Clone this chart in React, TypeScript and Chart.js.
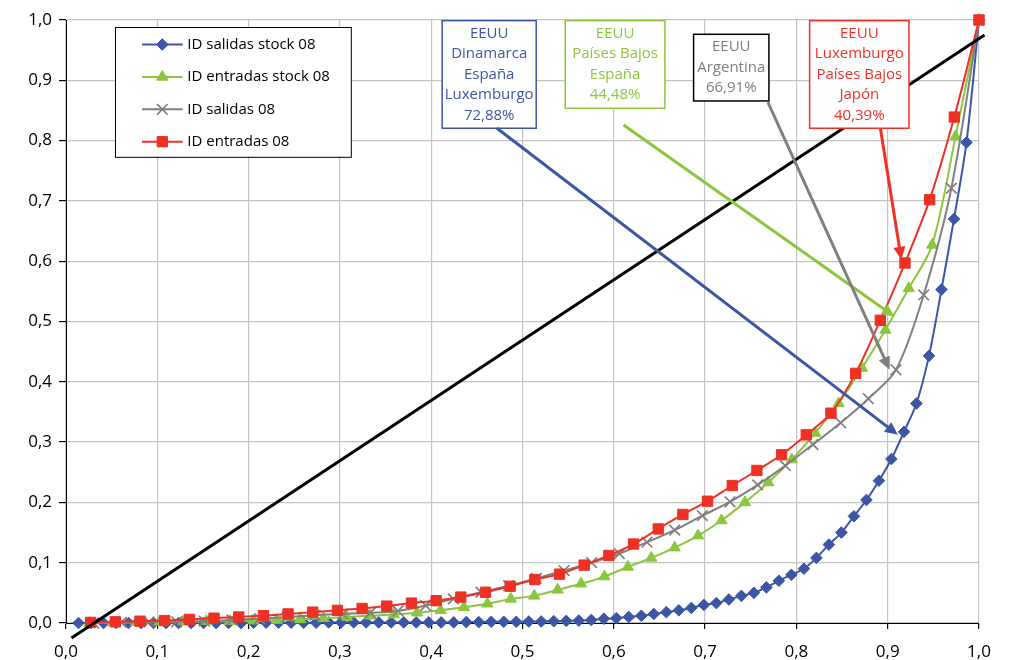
import React, { useEffect, useRef } from 'react';
import { Chart, registerables } from 'chart.js';

Chart.register(...registerables);

// ---------- data ----------
const xTickLabels = ['0,0', '0,1', '0,2', '0,3', '0,4', '0,5', '0,6', '0,7', '0,8', '0,9', '1,0'];
const yTickLabels = ['0,0', '0,1', '0,2', '0,3', '0,4', '0,5', '0,6', '0,7', '0,8', '0,9', '1,0'];

const seriesNames = ['ID salidas stock 08', 'ID entradas stock 08', 'ID salidas 08', 'ID entradas 08'];

// cumulative share (Lorenz-type curves); x of point i = i / n (share of countries)
const salidasStock08 = [
  0, 0, 0, 0, 0, 0, 0, 0, 0, 0,
  0, 0, 0, 0, 0.0005, 0.0005, 0.0005, 0.0005, 0.0005, 0.0005,
  0.001, 0.001, 0.001, 0.001, 0.001, 0.001, 0.001, 0.001, 0.001, 0.001,
  0.001, 0.0015, 0.0015, 0.002, 0.002, 0.002, 0.0025, 0.0025, 0.003, 0.0035,
  0.004, 0.005, 0.007, 0.008, 0.010, 0.012, 0.015, 0.018, 0.021, 0.025,
  0.030, 0.033, 0.039, 0.045, 0.050, 0.059, 0.070, 0.080, 0.090, 0.108,
  0.130, 0.150, 0.177, 0.204, 0.236, 0.272, 0.317, 0.364, 0.443, 0.553,
  0.670, 0.797, 1.0,
];

const entradasStock08 = [
  0.000, 0.001, 0.001, 0.002, 0.002, 0.003, 0.003, 0.004, 0.005, 0.006,
  0.008, 0.010, 0.012, 0.014, 0.017, 0.021, 0.026, 0.032, 0.040, 0.045,
  0.055, 0.065, 0.077, 0.093, 0.108, 0.125, 0.145, 0.170, 0.200, 0.233,
  0.271, 0.315, 0.364, 0.423, 0.486, 0.555, 0.627, 0.807, 1.0,
];

const salidas08 = [
  0.000, 0.001, 0.002, 0.002, 0.003, 0.005, 0.007, 0.010, 0.013, 0.015,
  0.017, 0.020, 0.029, 0.040, 0.051, 0.062, 0.074, 0.087, 0.100, 0.115,
  0.134, 0.154, 0.178, 0.201, 0.229, 0.261, 0.296, 0.332, 0.372, 0.420,
  0.544, 0.721, 1.0,
];

const entradas08 = [
  0.001, 0.002, 0.003, 0.004, 0.006, 0.008, 0.010, 0.012, 0.015, 0.018,
  0.021, 0.024, 0.028, 0.033, 0.037, 0.043, 0.051, 0.061, 0.072, 0.081,
  0.096, 0.112, 0.131, 0.156, 0.180, 0.202, 0.228, 0.253, 0.279, 0.312,
  0.348, 0.414, 0.502, 0.597, 0.702, 0.839, 1.0,
];

// reference straight line
const diagonalX = [0.006, 1.006];
const diagonalY = [-0.025, 0.975];

// ---------- styles ----------
const FONT = '"Open Sans", "DejaVu Sans", sans-serif';
const BLUE = '#3c56a5';
const GREEN = '#8cc63e';
const GRAY = '#7f7f7f';
const RED = '#ee3124';

const seriesStyles = [
  { color: BLUE, pointStyle: 'rectRot', radius: 5.8, borderWidth: 1 },
  { color: GREEN, pointStyle: 'triangle', radius: 6.5, borderWidth: 1 },
  { color: GRAY, pointStyle: 'crossRot', radius: 7.5, borderWidth: 1.7 },
  { color: RED, pointStyle: 'rect', radius: 7.3, borderWidth: 1 },
];
const seriesValues = [salidasStock08, entradasStock08, salidas08, entradas08];

// annotation boxes (data coordinates)
const annotations = [
  {
    lines: ['EEUU', 'Dinamarca', 'España', 'Luxemburgo', '72,88%'],
    text: BLUE, border: BLUE,
    box: [0.412, 0.9989, 0.515, 0.8205],
    arrow: [0.4720, 0.8205, 0.9112, 0.3121], arrowColor: BLUE,
  },
  {
    lines: ['EEUU', 'Países Bajos', 'España', '44,48%'],
    text: GREEN, border: GREEN,
    box: [0.5468, 0.9989, 0.656, 0.8536],
    arrow: [0.6107, 0.8260, 0.9076, 0.5082], arrowColor: GREEN,
  },
  {
    lines: ['EEUU', 'Argentina', '66,91%'],
    text: GRAY, border: '#000000',
    box: [0.6874, 0.9763, 0.7699, 0.8657],
    arrow: [0.7688, 0.8636, 0.9021, 0.4199], arrowColor: GRAY,
  },
  {
    lines: ['EEUU', 'Luxemburgo', 'Países Bajos', 'Japón', '40,39%'],
    text: RED, border: RED,
    box: [0.8145, 0.9989, 0.9233, 0.8205],
    arrow: [0.8920, 0.8205, 0.9150, 0.6022], arrowColor: RED,
  },
];

const legendBox = [0.054, 0.9887, 0.3123, 0.7734];

function drawMarker(ctx: CanvasRenderingContext2D, style: any, x: number, y: number) {
  const r = style.radius;
  ctx.save();
  ctx.fillStyle = style.color;
  ctx.strokeStyle = style.color;
  ctx.lineWidth = style.borderWidth;
  ctx.beginPath();
  if (style.pointStyle === 'rectRot') {
    ctx.moveTo(x - r, y); ctx.lineTo(x, y - r); ctx.lineTo(x + r, y); ctx.lineTo(x, y + r); ctx.closePath();
    ctx.fill(); ctx.stroke();
  } else if (style.pointStyle === 'triangle') {
    const h = r * 1.5;
    const w = r * Math.sqrt(3) / 2;
    ctx.moveTo(x, y - r); ctx.lineTo(x + w, y + h - r); ctx.lineTo(x - w, y + h - r); ctx.closePath();
    ctx.fill(); ctx.stroke();
  } else if (style.pointStyle === 'crossRot') {
    const o = r * Math.SQRT1_2;
    ctx.moveTo(x - o, y - o); ctx.lineTo(x + o, y + o);
    ctx.moveTo(x - o, y + o); ctx.lineTo(x + o, y - o);
    ctx.stroke();
  } else {
    const s = r * Math.SQRT1_2;
    ctx.rect(x - s, y - s, 2 * s, 2 * s);
    ctx.fill(); ctx.stroke();
  }
  ctx.restore();
}

const overlayPlugin = {
  id: 'overlay',
  afterDatasetsDraw(chart: any) {
    const ctx: CanvasRenderingContext2D = chart.ctx;
    const xs = chart.scales.x;
    const ys = chart.scales.y;
    const px = (v: number) => xs.getPixelForValue(v);
    const py = (v: number) => ys.getPixelForValue(v);
    ctx.save();

    // boxes
    for (const a of annotations) {
      const x0 = px(a.box[0]), y0 = py(a.box[1]), x1 = px(a.box[2]), y1 = py(a.box[3]);
      ctx.fillStyle = '#ffffff';
      ctx.fillRect(x0, y0, x1 - x0, y1 - y0);
      ctx.strokeStyle = a.border;
      ctx.lineWidth = 1.5;
      ctx.strokeRect(x0, y0, x1 - x0, y1 - y0);
      ctx.fillStyle = a.text;
      ctx.font = `15px ${FONT}`;
      ctx.textAlign = 'center';
      ctx.textBaseline = 'middle';
      const cx = (x0 + x1) / 2;
      a.lines.forEach((t, i) => {
        ctx.fillText(t, cx, y0 + 12.8 + i * 20.5);
      });
    }

    // arrows
    for (const a of annotations) {
      const sx = px(a.arrow[0]), sy = py(a.arrow[1]), ex = px(a.arrow[2]), ey = py(a.arrow[3]);
      const dx = ex - sx, dy = ey - sy;
      const len = Math.hypot(dx, dy);
      const ux = dx / len, uy = dy / len;
      const head = 13, half = 6;
      const bx = ex - ux * head, by = ey - uy * head;
      ctx.strokeStyle = a.arrowColor;
      ctx.fillStyle = a.arrowColor;
      ctx.lineWidth = 3;
      ctx.lineCap = 'butt';
      ctx.beginPath();
      ctx.moveTo(sx, sy);
      ctx.lineTo(bx + ux * 2, by + uy * 2);
      ctx.stroke();
      ctx.beginPath();
      ctx.moveTo(ex, ey);
      ctx.lineTo(bx - uy * half, by + ux * half);
      ctx.lineTo(bx + uy * half, by - ux * half);
      ctx.closePath();
      ctx.fill();
    }

    // legend
    const lx0 = px(legendBox[0]), ly0 = py(legendBox[1]), lx1 = px(legendBox[2]), ly1 = py(legendBox[3]);
    ctx.fillStyle = '#ffffff';
    ctx.fillRect(lx0, ly0, lx1 - lx0, ly1 - ly0);
    ctx.strokeStyle = '#000000';
    ctx.lineWidth = 1;
    ctx.strokeRect(Math.round(lx0) + 0.5, Math.round(ly0) + 0.5, lx1 - lx0, ly1 - ly0);
    seriesNames.forEach((name, i) => {
      const st = seriesStyles[i];
      const y = ly0 + 17.7 + i * 32.4;
      ctx.strokeStyle = st.color;
      ctx.lineWidth = 2;
      ctx.beginPath();
      ctx.moveTo(lx0 + 26.7, y);
      ctx.lineTo(lx0 + 67.3, y);
      ctx.stroke();
      drawMarker(ctx, st, lx0 + 47, y);
      ctx.fillStyle = '#000000';
      ctx.font = `15px ${FONT}`;
      ctx.textAlign = 'left';
      ctx.textBaseline = 'middle';
      ctx.fillText(name, lx0 + 72, y);
    });

    ctx.restore();
  },
};

export default function App() {
  const canvasRef = useRef<HTMLCanvasElement | null>(null);

  useEffect(() => {
    if (!canvasRef.current) return;
    const datasets: any[] = seriesValues.map((vals, si) => {
      const st = seriesStyles[si];
      return {
        label: seriesNames[si],
        data: vals.map((y, i) => ({ x: (i + 1) / vals.length, y })),
        borderColor: st.color,
        backgroundColor: st.color,
        borderWidth: 2,
        pointStyle: st.pointStyle,
        pointRadius: st.radius,
        pointBorderWidth: st.borderWidth,
        pointBackgroundColor: st.color,
        pointBorderColor: st.color,
        tension: 0.3,
        clip: false,
        order: 3 - si,
      };
    });
    datasets.push({
      label: 'diagonal',
      data: diagonalX.map((x, i) => ({ x, y: diagonalY[i] })),
      borderColor: '#000000',
      borderWidth: 3,
      pointRadius: 0,
      tension: 0,
      clip: false,
      order: -1,
    });

    const chart = new Chart(canvasRef.current, {
      type: 'line',
      data: { datasets },
      options: {
        responsive: false,
        animation: false,
        devicePixelRatio: 1,
        layout: { padding: { left: 0, right: 34, top: 20, bottom: 0 } },
        plugins: { legend: { display: false }, tooltip: { enabled: false } },
        scales: {
          x: {
            type: 'linear',
            position: 'bottom',
            min: 0,
            max: 1,
            ticks: {
              stepSize: 0.1,
              autoSkip: false,
              maxRotation: 0,
              color: '#000000',
              padding: 13,
              font: { family: FONT, size: 17 },
              callback: (_v: any, i: number) => xTickLabels[i],
            },
            grid: { color: '#c4c4c4', lineWidth: 1.2, tickColor: '#000000', tickLength: 6 },
            border: { color: '#000000', width: 1 },
            afterFit: (s: any) => { s.height = 37; },
          },
          y: {
            type: 'linear',
            min: 0,
            max: 1,
            ticks: {
              stepSize: 0.1,
              autoSkip: false,
              color: '#000000',
              padding: 7,
              font: { family: FONT, size: 17 },
              callback: (_v: any, i: number) => yTickLabels[i],
            },
            grid: { color: '#c4c4c4', lineWidth: 1.2, tickColor: '#000000', tickLength: 7 },
            border: { color: '#000000', width: 1 },
            afterFit: (s: any) => { s.width = 66; },
          },
        },
      },
      plugins: [overlayPlugin],
    } as any);
    return () => chart.destroy();
  }, []);

  return (
    <div style={{ position: 'absolute', left: 0, top: 0, width: 1013, height: 660, background: '#ffffff' }}>
      <canvas ref={canvasRef} width={1013} height={660} />
    </div>
  );
}
